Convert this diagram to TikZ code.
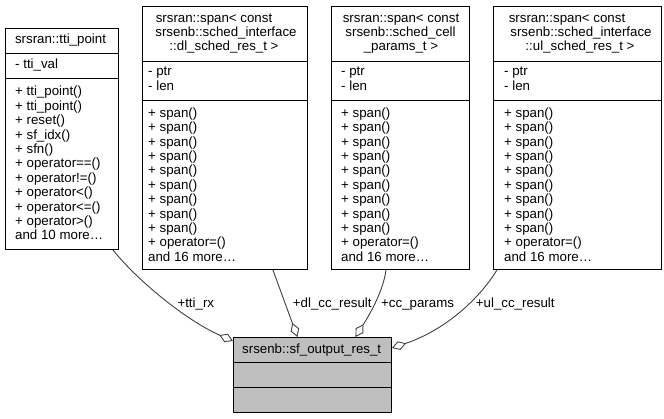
\documentclass[tikz,border=0pt]{standalone}
\usepackage{fontspec}
\setmainfont{Liberation Sans}
\usetikzlibrary{arrows.meta}

\tikzset{
    classbox/.style={draw=black, line width=0.9pt, fill=white, inner sep=0pt, anchor=north west},
    mainbox/.style={classbox, fill=black!25},
    member/.style={inner sep=0pt, anchor=base west},
    heading/.style={inner sep=0pt, anchor=base},
    link/.style={draw=black!75, line width=0.9pt, -{Diamond[open, length=15pt, width=9pt]}},
    linklabel/.style={inner sep=0pt, anchor=base west}
}

\begin{document}
\begin{tikzpicture}[x=1pt, y=-1pt, font=\fontsize{13.3pt}{14.4pt}\selectfont]
    		\newcommand{\linesp}{14.4}
    		\newcommand{\firstrow}{117.3}
    		\newcommand{\cut}{-55pt}
    		\newcommand{\cutb}{-94pt}
    		\useasboundingbox (0,0) rectangle (664,419);

    		% boxes
    		\node[classbox, minimum width=113pt, minimum height=221pt] (tti) at (5,28) {};
    		\node[classbox, minimum width=165pt, minimum height=263pt] (dl) at (142,6) {};
    		\node[classbox, minimum width=138pt, minimum height=263pt] (cc) at (331,6) {};
    		\node[classbox, minimum width=168pt, minimum height=263pt] (ul) at (493,6) {};
    		\node[mainbox, minimum width=158pt, minimum height=75pt] (sf) at (233,337) {};

    		% compartments
    		\draw[line width=0.9pt] ([yshift=-25pt]tti.north west) -- ([yshift=-25pt]tti.north east);
    		\draw[line width=0.9pt] ([yshift=-50pt]tti.north west) -- ([yshift=-50pt]tti.north east);
    		\draw[line width=0.9pt] ([yshift=-25pt]sf.north west) -- ([yshift=-25pt]sf.north east);
    		\draw[line width=0.9pt] ([yshift=-50pt]sf.north west) -- ([yshift=-50pt]sf.north east);
    		\foreach \b in {dl,cc,ul} {
    		    \draw[line width=0.9pt] ([yshift=\cut]\b.north west) -- ([yshift=\cut]\b.north east);
    		    \draw[line width=0.9pt] ([yshift=\cutb]\b.north west) -- ([yshift=\cutb]\b.north east);
    		}

    		% titles
    		\node[heading] (tti-name) at (60.5,44) {srsran::tti\_point};
    		\node[heading] (dl-name1) at (214,22.7) {srsran::span< const};
    		\node[heading] (dl-name2) at (226,36.7) {srsenb::sched\_interface};
    		\node[heading] (dl-name3) at (224,50.7) {::dl\_sched\_res\_t >};
    		\node[heading] (cc-name1) at (401,22.7) {srsran::span< const};
    		\node[heading] (cc-name2) at (400.5,36.7) {srsenb::sched\_cell};
    		\node[heading] (cc-name3) at (401,50.7) {\_params\_t >};
    		\node[heading] (ul-name1) at (567,22.7) {srsran::span< const};
    		\node[heading] (ul-name2) at (581,36.7) {srsenb::sched\_interface};
    		\node[heading] (ul-name3) at (580,50.7) {::ul\_sched\_res\_t >};
    		\node[heading] (sf-name) at (311.7,353.3) {srsenb::sf\_output\_res\_t};

    		% members
    		\node[member] (tti-val) at (15,69) {- tti\_val};
    		\foreach \m [count=\i from 0] in {tti\_point(), tti\_point(), reset(), sf\_idx(), sfn(),
    		        operator==(), operator!=(), operator<(), operator<=(), operator>()}
    		    \node[member] (tti-m\i) at (15,96+\i*\linesp) {+ \m};
    		\node[member] (tti-more) at (15,96+10*\linesp) {and 10 more…};

    		\foreach \b/\x in {dl/148, cc/341, ul/504} {
    		    \node[member] (\b-ptr) at (\x,76) {- ptr};
    		    \node[member] (\b-len) at (\x,90.4) {- len};
    		    \foreach \i in {0,...,8}
    		        \node[member] (\b-m\i) at (\x,\firstrow+\i*\linesp) {+ span()};
    		    \node[member] (\b-op) at (\x,\firstrow+9*\linesp) {+ operator=()};
    		    \node[member] (\b-more) at (\x,\firstrow+10*\linesp) {and 16 more…};
    		}

    		% links
    		\draw[link] ([xshift=-6pt]tti.south east) .. controls +(23,29) and +(-48,-21) .. ([yshift=-4pt]sf.north west);
    		\draw[link] ([xshift=-35pt]dl.south east) -- ([xshift=-15pt]sf.north);
    		\draw[link] ([xshift=55pt]cc.south west) .. controls +(-3,23) and +(12,-19) .. ([xshift=43pt]sf.north);
    		\draw[link] ([xshift=4pt]ul.south west) .. controls +(-17,28) and +(54,-18) .. ([yshift=-11pt]sf.north east);

    		% link labels
    		\node[linklabel] (lbl-tti) at (177.3,307.7) {+tti\_rx};
    		\node[linklabel] (lbl-dl) at (292.7,307.7) {+dl\_cc\_result};
    		\node[linklabel] (lbl-cc) at (381,307.7) {+cc\_params};
    		\node[linklabel] (lbl-ul) at (475.7,307.7) {+ul\_cc\_result};

		\end{tikzpicture}
\end{document}
